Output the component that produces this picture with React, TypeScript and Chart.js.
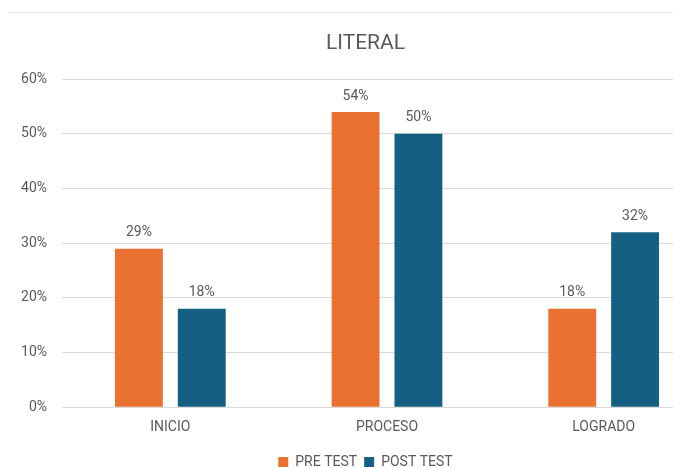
import React, { useEffect, useRef } from "react";
import { Chart, registerables } from "chart.js";

Chart.register(...registerables);

const categories = ["INICIO", "PROCESO", "LOGRADO"];
const preTest = [0.29, 0.54, 0.18];
const postTest = [0.18, 0.5, 0.32];
const seriesNames = ["PRE TEST", "POST TEST"];
const titleText = "LITERAL";

const FONT = "'Roboto', sans-serif";
const GREY = "#595959";

const labelPlugin = {
  id: "barLabels",
  afterDatasetsDraw(chart: any) {
    const ctx = chart.ctx;
    ctx.save();
    ctx.font = `14px ${FONT}`;
    ctx.fillStyle = GREY;
    ctx.textAlign = "center";
    ctx.textBaseline = "bottom";
    chart.data.datasets.forEach((ds: any, i: number) => {
      const meta = chart.getDatasetMeta(i);
      meta.data.forEach((el: any, j: number) => {
        const v = ds.data[j];
        ctx.fillText(Math.round(v * 100) + "%", el.x, el.y - 9);
      });
    });
    ctx.restore();
  },
};

const topLinePlugin = {
  id: "topLine",
  beforeDraw(chart: any) {
    const ctx = chart.ctx;
    ctx.save();
    ctx.fillStyle = "#ffffff";
    ctx.fillRect(0, 0, chart.width, chart.height);
    ctx.strokeStyle = "#e3e3e3";
    ctx.lineWidth = 1;
    ctx.beginPath();
    ctx.moveTo(8, 12.5);
    ctx.lineTo(chart.width, 12.5);
    ctx.stroke();
    ctx.restore();
  },
};

export default function App() {
  const ref = useRef<HTMLCanvasElement | null>(null);
  useEffect(() => {
    if (!ref.current) return;
    const chart = new Chart(ref.current, {
      type: "bar",
      data: {
        labels: categories,
        datasets: [
          {
            label: seriesNames[0],
            data: preTest,
            backgroundColor: "#E97132",
            categoryPercentage: 0.58,
            barPercentage: 0.762,
          },
          {
            label: seriesNames[1],
            data: postTest,
            backgroundColor: "#156082",
            categoryPercentage: 0.58,
            barPercentage: 0.762,
          },
        ],
      },
      options: {
        responsive: false,
        animation: false,
        layout: { padding: { left: 19, right: 28, top: 15, bottom: 2 } },
        plugins: {
          title: {
            display: true,
            text: titleText,
            color: GREY,
            font: { family: FONT, size: 21, weight: "normal" },
            padding: { top: 16, bottom: 23 },
          },
          legend: {
            position: "bottom",
            labels: {
              color: GREY,
              font: { family: FONT, size: 14 },
              boxWidth: 10,
              boxHeight: 10,
              padding: 7,
            },
          },
          tooltip: { enabled: false },
        },
        scales: {
          x: {
            grid: { display: false, drawTicks: false },
            border: { color: "#d9d9d9" },
            ticks: {
              color: GREY,
              font: { family: FONT, size: 14 },
              padding: 12,
            },
          },
          y: {
            min: 0,
            max: 0.6,
            grid: { color: "#d9d9d9", drawTicks: false },
            border: { display: false },
            afterFit: (scale: any) => {
              scale.width = 43;
            },
            ticks: {
              stepSize: 0.1,
              color: GREY,
              font: { family: FONT, size: 14 },
              padding: 15,
              callback: (v: any) => Math.round(Number(v) * 100) + "%",
            },
          },
        },
      },
      plugins: [labelPlugin, topLinePlugin],
    });
    return () => chart.destroy();
  }, []);
  return (
    <div
      style={{
        position: "fixed",
        left: 0,
        top: 0,
        width: 673,
        height: 468,
        overflow: "hidden",
        background: "#fff",
      }}
    >
      <canvas ref={ref} width={740} height={481} style={{ display: "block" }} />
    </div>
  );
}
